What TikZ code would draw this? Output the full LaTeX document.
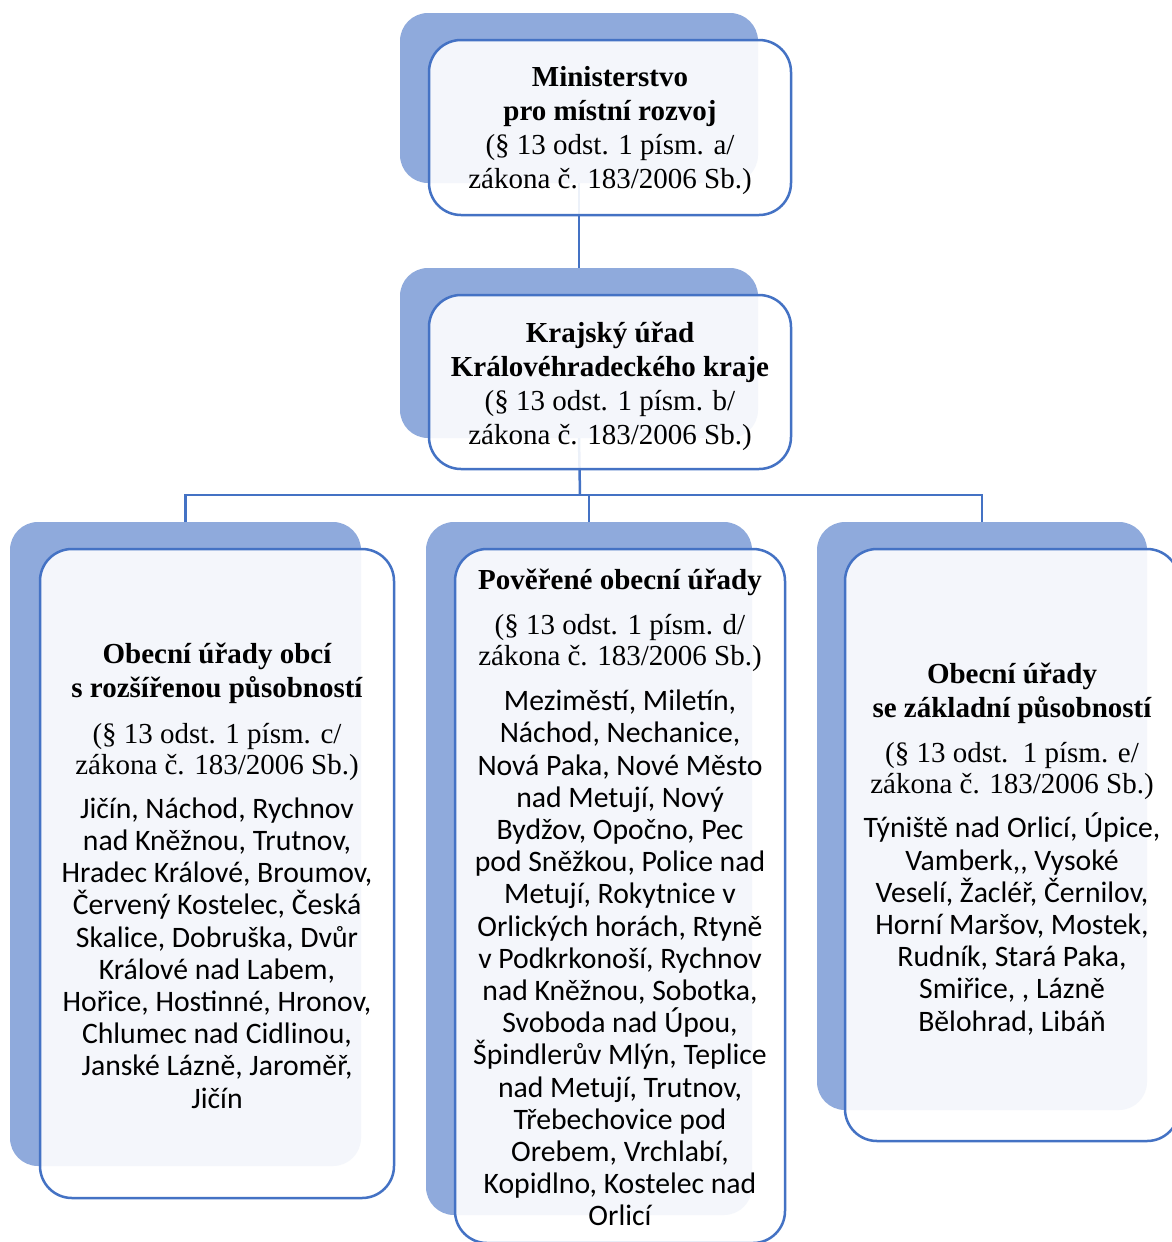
\documentclass[tikz,border=0pt]{standalone}
\usepackage{fontspec}
\setmainfont{Liberation Serif}
\newfontfamily\calfont{Carlito}
\definecolor{bback}{RGB}{143,170,220}
\definecolor{bline}{RGB}{68,114,196}
\begin{document}
\begin{tikzpicture}[x=1pt,y=-1pt,
  backbox/.style={fill=bback, draw=none, inner sep=0, outer sep=0, rounded corners=28pt},
  frontbox/.style={draw=bline, line width=2.5pt, fill=white, fill opacity=0.9, inner sep=0, outer sep=0, rounded corners=32pt},
  conn/.style={draw=bline, line width=2.5pt},
  hdr/.style={align=center, inner sep=0, font=\fontsize{29}{34}\selectfont},
  ttl/.style={align=center, inner sep=0, font=\fontsize{29}{34}\selectfont\bfseries},
  refx/.style={align=center, inner sep=0, font=\fontsize{29}{31}\selectfont},
  lst/.style={align=center, inner sep=0, font=\calfont\fontsize{29.7}{32.2}\selectfont}]
\clip (0,0) rectangle (1172,1242);
\fill[white] (0,0) rectangle (1172,1242);
% back boxes
\node[backbox, minimum width=358pt, minimum height=170pt] (tb) at (579,98) {};
\node[backbox, minimum width=358pt, minimum height=170pt] (mb) at (579,353) {};
\node[backbox, minimum width=351pt, minimum height=644pt] (lb) at (185.5,844) {};
\node[backbox, minimum width=326pt, minimum height=693pt] (cb) at (589,868.5) {};
\node[backbox, minimum width=330pt, minimum height=588pt] (rb) at (982,816) {};
% connectors
\coordinate (bus) at (580,495);
\draw[conn] (tb.south) -- (mb.north);
\draw[conn] (mb.south) -- (bus);
\draw[conn] (bus) -| (lb.north);
\draw[conn] (bus) -| (cb.north);
\draw[conn] (bus) -| (rb.north);
% front boxes
\node[frontbox, minimum width=362pt, minimum height=175pt] (tf) at (610,127.5) {};
\node[frontbox, minimum width=362pt, minimum height=174pt] (mf) at (610,382) {};
\node[frontbox, minimum width=354pt, minimum height=649pt] (lf) at (217,873.5) {};
\node[frontbox, minimum width=330pt, minimum height=694pt] (cf) at (620,896) {};
\node[frontbox, minimum width=334pt, minimum height=592pt] (rf) at (1012,845) {};
% texts
\node[hdr] (tt) at (610,131) {\textbf{Ministerstvo}\\\textbf{pro místní rozvoj}\\(§ 13 odst. 1 písm. a/\\zákona č. 183/2006 Sb.)};
\node[hdr] (mt) at (610,386) {\textbf{Krajský úřad}\\\textbf{Královéhradeckého kraje}\\(§ 13 odst. 1 písm. b/\\zákona č. 183/2006 Sb.)};
% left
\node[ttl] (lt) at (217,673) {Obecní úřady obcí\\s rozšířenou působností};
\node[refx] (lr) at (217,752) {(§ 13 odst. 1 písm. c/\\zákona č. 183/2006 Sb.)};
\node[lst] (ll) at (217,953) {Jičín, Náchod, Rychnov\\nad Kněžnou, Trutnov,\\Hradec Králové, Broumov,\\Červený Kostelec, Česká\\Skalice, Dobruška, Dvůr\\Králové nad Labem,\\Hořice, Hostinné, Hronov,\\Chlumec nad Cidlinou,\\Janské Lázně, Jaroměř,\\Jičín};
% middle
\node[ttl] (ct) at (620,582) {Pověřené obecní úřady};
\node[refx] (cr) at (620,643) {(§ 13 odst. 1 písm. d/\\zákona č. 183/2006 Sb.)};
\node[lst] (cl) at (620,958) {Meziměstí, Miletín,\\Náchod, Nechanice,\\Nová Paka, Nové Město\\nad Metují, Nový\\Bydžov, Opočno, Pec\\pod Sněžkou, Police nad\\Metují, Rokytnice v\\Orlických horách, Rtyně\\v Podkrkonoší, Rychnov\\nad Kněžnou, Sobotka,\\Svoboda nad Úpou,\\Špindlerův Mlýn, Teplice\\nad Metují, Trutnov,\\Třebechovice pod\\Orebem, Vrchlabí,\\Kopidlno, Kostelec nad\\Orlicí};
% right
\node[ttl] (rt) at (1012,693) {Obecní úřady\\se základní působností};
\node[refx] (rr) at (1012,771) {(§ 13 odst.\ \ 1 písm. e/\\zákona č. 183/2006 Sb.)};
\node[lst] (rl) at (1012,924) {Týniště nad Orlicí, Úpice,\\Vamberk,, Vysoké\\Veselí, Žacléř, Černilov,\\Horní Maršov, Mostek,\\Rudník, Stará Paka,\\Smiřice, , Lázně\\Bělohrad, Libáň};
\end{tikzpicture}
\end{document}
